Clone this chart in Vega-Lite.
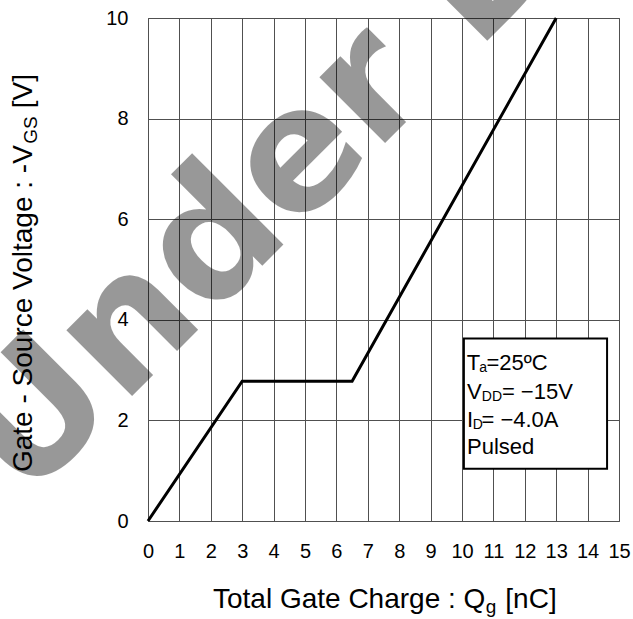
{
  "$schema": "https://vega.github.io/schema/vega-lite/v6.json",
  "width": 471,
  "height": 503,
  "autosize": {"type": "none"},
  "padding": {"left": 148, "top": 18, "right": 14, "bottom": 98},
  "background": "white",
  "config": {
    "view": {"stroke": "#505050", "strokeWidth": 1},
    "font": "Liberation Sans"
  },
  "datasets": {
    "curve": [
      {"x": 0, "y": 0},
      {"x": 3, "y": 2.78},
      {"x": 6.5, "y": 2.78},
      {"x": 13, "y": 10}
    ],
    "box": [
      {"x": 10.06, "x2": 14.62, "y": 3.63, "y2": 1.04}
    ],
    "legendMain": [
      {"x": 10.15, "y": 3.15, "text": "T"},
      {"x": 10.78, "y": 3.15, "text": "=25ºC"},
      {"x": 10.16, "y": 2.57, "text": "V"},
      {"x": 11.27, "y": 2.57, "text": "= −15V"},
      {"x": 10.16, "y": 2.01, "text": "I"},
      {"x": 10.62, "y": 2.01, "text": "= −4.0A"},
      {"x": 10.16, "y": 1.47, "text": "Pulsed"}
    ],
    "legendSub": [
      {"x": 10.55, "y": 3.05, "text": "a"},
      {"x": 10.63, "y": 2.47, "text": "DD"},
      {"x": 10.34, "y": 1.91, "text": "D"}
    ],
    "xTitleMain": [
      {"x": 2.07, "y": -1.73, "text": "Total Gate Charge : Q"},
      {"x": 11.38, "y": -1.73, "text": "[nC]"}
    ],
    "xTitleSub": [
      {"x": 10.76, "y": -1.83, "text": "g"}
    ],
    "yTitleMain": [
      {"x": -3.694, "y": 0.974, "text": "Gate - Source Voltage : -V"},
      {"x": -3.694, "y": 8.205, "text": "[V]"}
    ],
    "yTitleSub": [
      {"x": -3.535, "y": 7.50, "text": "GS"}
    ],
    "watermark": [
      {"x": -3.94, "y": 0.344, "text": "Under Development"}
    ]
  },
  "encoding": {
    "x": {
      "field": "x",
      "type": "quantitative",
      "scale": {"domain": [0, 15], "nice": false},
      "axis": {
        "title": null,
        "values": [0, 1, 2, 3, 4, 5, 6, 7, 8, 9, 10, 11, 12, 13, 14, 15],
        "grid": true,
        "gridColor": "#505050",
        "gridWidth": 1,
        "gridOpacity": 1,
        "domain": false,
        "ticks": false,
        "tickSize": 0,
        "labelPadding": 20,
        "labelFontSize": 20,
        "labelColor": "black",
        "labelFlush": false,
        "labelOverlap": false
      }
    },
    "y": {
      "field": "y",
      "type": "quantitative",
      "scale": {"domain": [0, 10], "nice": false},
      "axis": {
        "title": null,
        "values": [0, 2, 4, 6, 8, 10],
        "grid": true,
        "gridColor": "#505050",
        "gridWidth": 1,
        "gridOpacity": 1,
        "domain": false,
        "ticks": false,
        "tickSize": 0,
        "labelPadding": 20,
        "labelFontSize": 20,
        "labelColor": "black",
        "labelFlush": false,
        "labelOverlap": false
      }
    }
  },
  "layer": [
    {
      "data": {"name": "curve"},
      "mark": {"type": "line", "color": "black", "strokeWidth": 3}
    },
    {
      "data": {"name": "box"},
      "mark": {"type": "rect", "fill": "white", "stroke": "black", "strokeWidth": 2},
      "encoding": {
        "x2": {"field": "x2"},
        "y2": {"field": "y2"}
      }
    },
    {
      "data": {"name": "legendMain"},
      "mark": {"type": "text", "align": "left", "baseline": "middle", "fontSize": 22, "font": "Liberation Sans", "color": "black"},
      "encoding": {"text": {"field": "text"}}
    },
    {
      "data": {"name": "legendSub"},
      "mark": {"type": "text", "align": "left", "baseline": "middle", "fontSize": 14, "font": "Liberation Sans", "color": "black"},
      "encoding": {"text": {"field": "text"}}
    },
    {
      "data": {"name": "xTitleMain"},
      "mark": {"type": "text", "align": "left", "baseline": "alphabetic", "fontSize": 28, "font": "Liberation Sans", "color": "black"},
      "encoding": {"text": {"field": "text"}}
    },
    {
      "data": {"name": "xTitleSub"},
      "mark": {"type": "text", "align": "left", "baseline": "alphabetic", "fontSize": 19, "font": "Liberation Sans", "color": "black"},
      "encoding": {"text": {"field": "text"}}
    },
    {
      "data": {"name": "yTitleMain"},
      "mark": {"type": "text", "align": "left", "baseline": "alphabetic", "angle": 270, "fontSize": 28, "font": "Liberation Sans", "color": "black"},
      "encoding": {"text": {"field": "text"}}
    },
    {
      "data": {"name": "yTitleSub"},
      "mark": {"type": "text", "align": "left", "baseline": "alphabetic", "angle": 270, "fontSize": 19, "font": "Liberation Sans", "color": "black"},
      "encoding": {"text": {"field": "text"}}
    },
    {
      "data": {"name": "watermark"},
      "mark": {"type": "text", "align": "left", "baseline": "alphabetic", "angle": 315, "fontSize": 170, "font": "DejaVu Sans", "fontWeight": "bold", "color": "black", "opacity": 0.4},
      "encoding": {"text": {"field": "text"}}
    }
  ]
}
